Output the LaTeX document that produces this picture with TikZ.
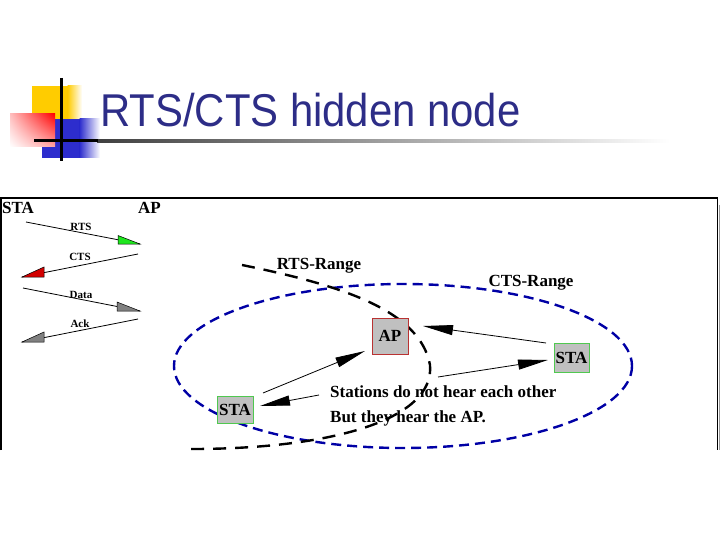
\documentclass[tikz,border=0pt]{standalone}
\usepackage{fontspec}
\setmainfont{Liberation Serif}
\newfontfamily\titlefont{Liberation Sans}
\usetikzlibrary{arrows.meta,shadings}
\definecolor{titleblue}{RGB}{45,45,135}
\definecolor{rangeblue}{RGB}{0,0,165}
\definecolor{boxgray}{RGB}{192,192,192}
\definecolor{stagreen}{RGB}{80,200,80}
\definecolor{apred}{RGB}{185,50,50}
\definecolor{logoyellow}{RGB}{255,204,0}
\definecolor{logoblue}{RGB}{45,45,205}
\definecolor{tgreen}{RGB}{30,230,30}
\definecolor{tred}{RGB}{210,0,0}
\definecolor{tgray}{RGB}{128,128,128}
\tikzset{
  lbl/.style={font=\fontsize{17}{20}\selectfont\bfseries, inner sep=0pt},
  small/.style={font=\fontsize{11}{13}\selectfont\bfseries, inner sep=0pt},
  stabox/.style={draw=stagreen, fill=boxgray, line width=0.9pt, minimum width=36pt, minimum height=28pt, inner sep=0pt, font=\fontsize{17}{20}\selectfont\bfseries},
  apbox/.style={draw=apred, fill=boxgray, line width=0.9pt, minimum width=36pt, minimum height=36pt, inner sep=0pt, font=\fontsize{17}{20}\selectfont\bfseries},
  msg/.style={line width=0.8pt},
  tip/.style={draw=black, line width=0.5pt},
  arr/.style={line width=0.8pt, -{Triangle[length=30pt,width=10pt]}},
  bluerange/.style={draw=rangeblue, line width=2.4pt, dash pattern=on 10pt off 6pt},
  blackrange/.style={draw=black, line width=2.4pt, dash pattern=on 13pt off 9pt},
}
\begin{document}
\begin{tikzpicture}[x=1pt,y=-1pt]
\useasboundingbox (0,0) rectangle (720,540);
% ---- logo ----
\fill[logoyellow] (32,86) rectangle (68,130);
\shade[left color=logoyellow, right color=white] (67.5,86) rectangle (82,130);
\fill[logoblue] (42,119) rectangle (80,158);
\shade[left color=logoblue, right color=white] (79.5,119) rectangle (100,158);
\shade[upper left=red!25, upper right=red, lower left=white, lower right=red!35] (10,114) rectangle (55,147);
\shade[left color=black!75, right color=white] (97,139.5) rectangle (670,142.5);
\draw[line width=3pt] (34,141) -- (98,141);
\draw[line width=3pt] (61,78) -- (61,161);
% ---- title ----
\node[anchor=base west, inner sep=0pt, text=titleblue, font=\titlefont\fontsize{46}{50}\selectfont] (title) at (100,127) {\scalebox{0.91}[1]{RTS/CTS hidden node}};
% ---- frame ----
\draw[line width=1.6pt] (0.8,450) -- (0.8,198) -- (717.6,198) -- (717.6,450);
\draw[black!40, line width=1.2pt] (719.6,205) -- (719.6,450);
% ---- timing diagram ----
\node[lbl, anchor=base west] (tsta) at (2,214) {STA};
\node[lbl, anchor=base west] (tap) at (138,214) {AP};
\coordinate (rtsA) at (26,222);  \coordinate (rtsB) at (140,244);
\coordinate (ctsA) at (138,254); \coordinate (ctsB) at (22,277);
\coordinate (datA) at (23,288);  \coordinate (datB) at (140,311);
\coordinate (ackA) at (138,319); \coordinate (ackB) at (22,342);
\draw[msg] (rtsA) -- (rtsB);
\draw[msg] (ctsA) -- (ctsB);
\draw[msg] (datA) -- (datB);
\draw[msg] (ackA) -- (ackB);
\filldraw[tip, fill=tgreen] (118,235.5) -- (118,244) -- (rtsB) -- cycle;
\filldraw[tip, fill=tred] (ctsB) -- (44,267) -- (44,277) -- cycle;
\filldraw[tip, fill=tgray] (117,302) -- (117,311) -- (datB) -- cycle;
\filldraw[tip, fill=tgray] (ackB) -- (44,332) -- (44,342) -- cycle;
\node[small] (lrts) at (81,226.5) {RTS};
\node[small] (lcts) at (80,256.5) {CTS};
\node[small] (ldat) at (81,295) {Data};
\node[small] (lack) at (80,324) {Ack};
% ---- ranges ----
\draw[bluerange] (403,366) ellipse [x radius=229, y radius=82];
\draw[blackrange] (242,265) .. controls (340,285) and (420,310) .. (430,365)
   .. controls (435,420) and (330,450) .. (183,449);
% ---- stations ----
\node[apbox] (ap) at (390,336) {AP};
\node[stabox, minimum height=27pt] (staL) at (235,409.5) {STA};
\node[stabox, minimum width=35pt, minimum height=29pt] (staR) at (571.5,357.5) {STA};
\coordinate (a1s) at (263,393);  \coordinate (a1e) at (365,351);
\coordinate (a2s) at (319,395);  \coordinate (a2e) at (260,406);
\coordinate (a3s) at (546,343);  \coordinate (a3e) at (423,326);
\coordinate (a4s) at (438,377);  \coordinate (a4e) at (548,360);
\draw[arr] (a1s) -- (a1e);
\draw[arr] (a2s) -- (a2e);
\draw[arr] (a3s) -- (a3e);
\draw[arr] (a4s) -- (a4e);
% ---- labels ----
\node[lbl] (rtsr) at (319,266) {RTS-Range};
\node[lbl] (ctsr) at (531,283) {CTS-Range};
\node[lbl, anchor=base west] (t1) at (330,397) {Stations do not hear each other};
\node[lbl, anchor=base west] (t2) at (330,422) {But they hear the AP.};
\end{tikzpicture}
\end{document}
